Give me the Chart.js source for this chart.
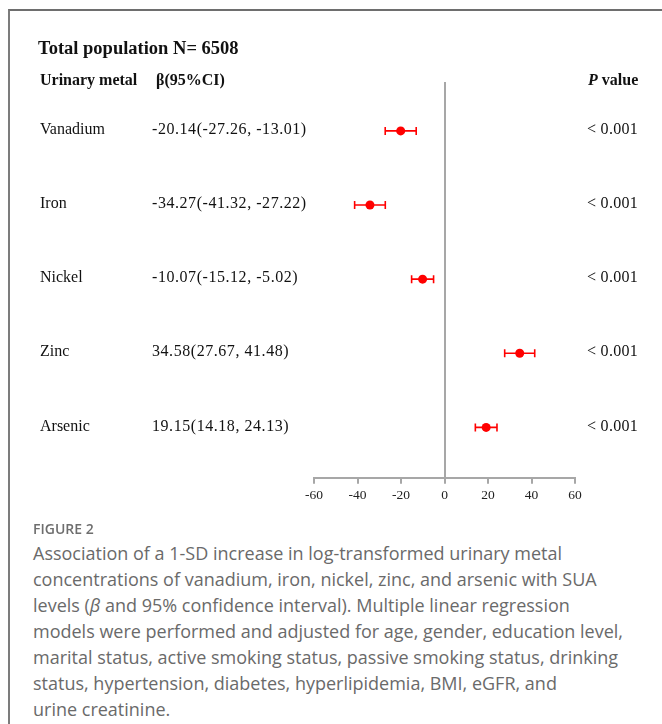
<!DOCTYPE html>
<html>
<head>
<meta charset="utf-8">
<script src="https://cdn.jsdelivr.net/npm/chart.js@4.4.1/dist/chart.umd.min.js"></script>
<style>
  html, body { margin: 0; padding: 0; background: #ffffff; }
  body { width: 662px; height: 724px; position: relative; overflow: hidden; }
  .frame { position: absolute; left: 8px; top: 9px; width: 700px; height: 760px;
           border-left: 2px solid #7c7c7c; border-top: 2px solid #6e6e6e; }
  #plot { position: absolute; left: 0; top: 0; }
  .serif { position: absolute; font-family: "Liberation Serif", "Times New Roman", serif; color: #111; white-space: nowrap; font-weight: bold; }
  .title { left: 38px; top: 37px; font-size: 18.5px; line-height: 22px; }
  .hdr { top: 70px; font-size: 16px; line-height: 19px; }
  .fig { position: absolute; left: 33px; top: 519px; font-family: "Open Sans", sans-serif; font-weight: 600; font-size: 14px; color: #6e6e6e; line-height: 20px; }
  .cap { position: absolute; left: 33px; top: 540px; font-family: "Open Sans", sans-serif; font-size: 18px; color: #6a6a6a; line-height: 26px; white-space: nowrap; }
</style>
</head>
<body>
<div class="frame"></div>
<canvas id="plot" width="662" height="520"></canvas>
<div class="serif title">Total population N= 6508</div>
<div class="serif hdr" style="left:40px">Urinary metal</div>
<div class="serif hdr" style="left:156px">β(95%CI)</div>
<div class="serif hdr" style="left:588px"><i>P</i> value</div>
<div class="fig">FIGURE 2</div>
<div class="cap">Association of a 1-SD increase in log-transformed urinary metal<br>concentrations of vanadium, iron, nickel, zinc, and arsenic with SUA<br>levels (<i>β</i> and 95% confidence interval). Multiple linear regression<br>models were performed and adjusted for age, gender, education level,<br>marital status, active smoking status, passive smoking status, drinking<br>status, hypertension, diabetes, hyperlipidemia, BMI, eGFR, and<br>urine creatinine.</div>
<script>
// Forest plot data: regression coefficient (β) and 95% CI per urinary metal
const metals = ['Vanadium', 'Iron', 'Nickel', 'Zinc', 'Arsenic'];
const beta   = [-20.14, -34.27, -10.07, 34.58, 19.15];
const lower  = [-27.26, -41.32, -15.12, 27.67, 14.18];
const upper  = [-13.01, -27.22, -5.02, 41.48, 24.13];
const pValues = ['< 0.001', '< 0.001', '< 0.001', '< 0.001', '< 0.001'];
const xTicks = [-60, -40, -20, 0, 20, 40, 60];

const RED = '#ff0000';
const AXIS_GREY = '#a7a7a7';
const SERIF = '"Liberation Serif", "Times New Roman", serif';

// Horizontal CI whiskers with end caps, drawn beneath the point markers
const ciBars = {
  id: 'ciBars',
  beforeDatasetsDraw(chart) {
    const { ctx, scales: { x, y } } = chart;
    ctx.save();
    ctx.strokeStyle = RED;
    ctx.lineWidth = 1.6;
    metals.forEach((m, i) => {
      const py = y.getPixelForValue(i + 1);
      const x0 = x.getPixelForValue(lower[i]);
      const x1 = x.getPixelForValue(upper[i]);
      ctx.beginPath();
      ctx.moveTo(x0, py); ctx.lineTo(x1, py);
      ctx.moveTo(x0, py - 4); ctx.lineTo(x0, py + 4);
      ctx.moveTo(x1, py - 4); ctx.lineTo(x1, py + 4);
      ctx.stroke();
    });
    ctx.restore();
  }
};

// Table columns: metal name, β (95% CI) and P value for each row
const rowText = {
  id: 'rowText',
  afterDraw(chart) {
    const { ctx, scales: { y } } = chart;
    ctx.save();
    ctx.fillStyle = '#111';
    ctx.font = '16px ' + SERIF;
    ctx.textBaseline = 'middle';
    metals.forEach((m, i) => {
      const py = y.getPixelForValue(i + 1) - 1;
      const ci = beta[i].toFixed(2) + '(' + lower[i].toFixed(2) + ', ' + upper[i].toFixed(2) + ')';
      ctx.letterSpacing = '0px';
      ctx.fillText(m, 40, py);
      ctx.letterSpacing = '0.55px';
      ctx.fillText(ci, 152, py);
      ctx.letterSpacing = '0.3px';
      ctx.fillText(pValues[i], 587, py);
    });
    ctx.restore();
  }
};

new Chart(document.getElementById('plot'), {
  type: 'scatter',
  data: {
    datasets: [{
      data: metals.map((m, i) => ({ x: beta[i], y: i + 1 })),
      backgroundColor: RED,
      borderColor: RED,
      pointRadius: 4.5,
      pointHoverRadius: 4.5,
      borderWidth: 0
    }]
  },
  options: {
    responsive: false,
    animation: false,
    events: [],
    layout: { padding: { left: 314, right: 87, top: 82, bottom: 12 } },
    plugins: { legend: { display: false }, tooltip: { enabled: false } },
    scales: {
      x: {
        type: 'linear',
        min: -60,
        max: 60,
        afterBuildTicks: s => { s.ticks = xTicks.map(v => ({ value: v })); },
        ticks: { color: '#222', font: { family: SERIF, size: 13.5 }, padding: 4, maxRotation: 0 },
        grid: {
          color: c => (c.tick && c.tick.value === 0) ? AXIS_GREY : 'rgba(0,0,0,0)',
          lineWidth: 2,
          tickColor: AXIS_GREY,
          tickLength: 6,
          tickWidth: 2
        },
        border: { display: true, color: AXIS_GREY, width: 2 }
      },
      y: { type: 'linear', min: 0.34, max: 5.68, reverse: true, display: false }
    }
  },
  plugins: [ciBars, rowText]
});
</script>
</body>
</html>
